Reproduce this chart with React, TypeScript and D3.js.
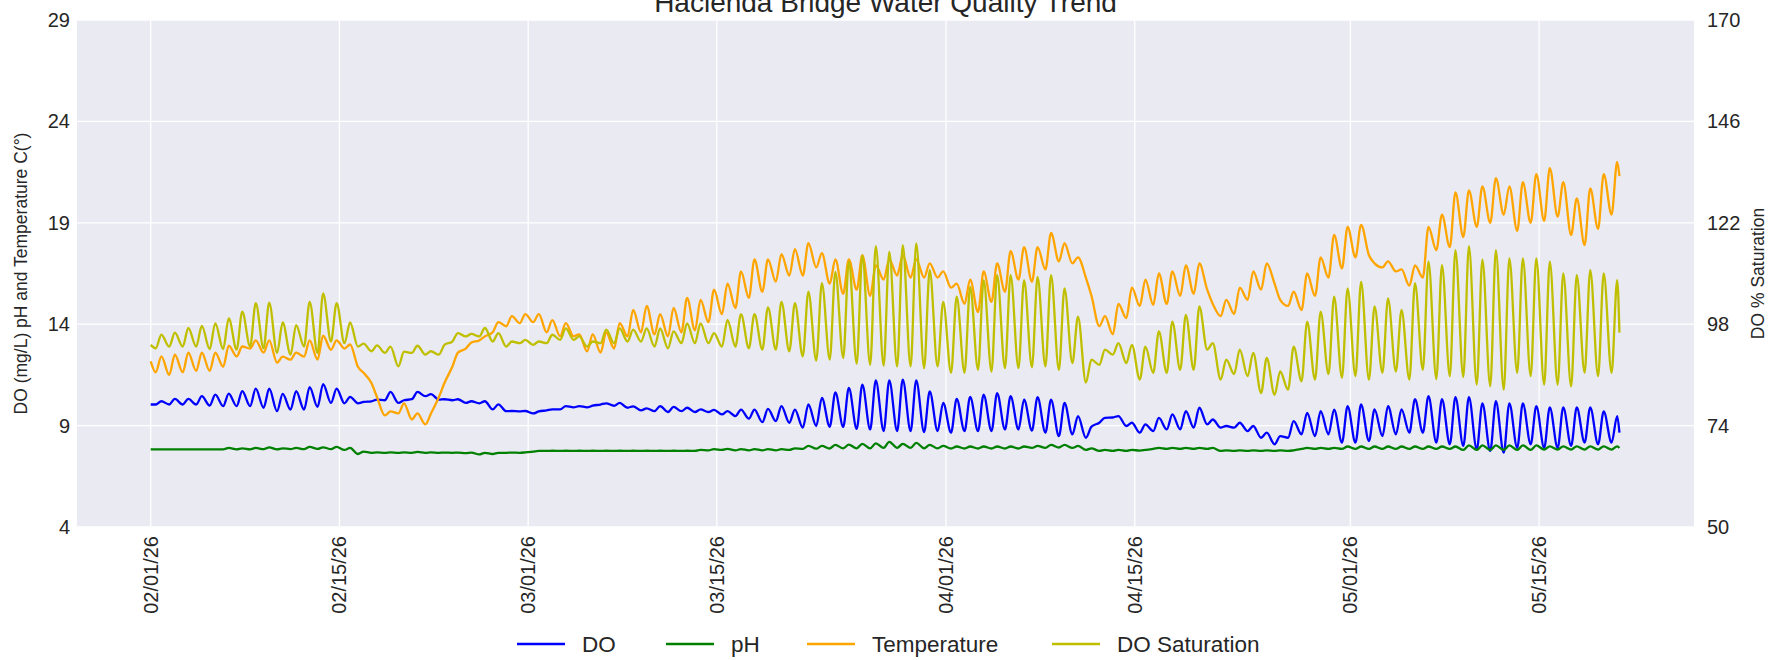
import React from "react";
import * as d3 from "d3";

// ---------------- DATA ----------------
// Daily readings: "Low" = morning trough reading, "High" = evening peak reading.
const doStart = 10.04;
const doEnd = 8.65;
const doLow = [
  10.04, 10.04, 10.04, 10.04, 9.99, 9.96, 9.96, 9.96, 9.88, 9.71, 9.79, 9.79, 9.92, 10.12, 10.1,
  10.1, 10.2, 10.25, 10.12, 10.3, 10.45,
  10.28, 10.25, 10.12, 10.1, 9.8, 9.71, 9.7, 9.6, 9.75, 9.8, 9.9, 9.9, 10.04, 9.98, 9.88, 9.75, 9.71, 9.67, 9.71, 9.67, 9.67, 9.55,
  9.47, 9.34, 9.17, 9.22, 9.14, 8.9, 8.98, 8.94, 8.94, 8.84, 8.81, 8.73, 8.73, 8.73, 8.68, 8.73, 8.65, 8.73, 8.73, 8.73, 8.81, 8.81, 8.75,
  8.65, 8.48, 8.57, 8.4, 9.14, 9.4, 8.98, 8.65, 8.73, 8.81, 8.81, 8.9, 9.06, 8.9, 8.9, 8.73, 8.4, 8.08, 8.4, 8.57, 8.48, 8.57,
  8.16, 8.16, 8.24, 8.48, 8.57, 8.65, 8.65, 8.16, 8.08, 8.0, 7.83, 7.75, 7.67, 7.9, 8.08, 7.9, 7.9, 8.0, 8.16, 8.08, 8.16,
];
const doHigh = [
  10.2, 10.32, 10.32, 10.45, 10.53, 10.58, 10.7, 10.82, 10.82, 10.56, 10.7, 10.9, 11.05, 10.82, 10.42,
  10.17, 10.28, 10.66, 10.25, 10.66, 10.55,
  10.3, 10.3, 10.2, 10.2, 10.05, 9.72, 9.72, 9.7, 9.8, 9.96, 9.96, 9.98, 10.1, 10.12, 9.95, 9.85, 9.96, 9.92, 9.88, 9.8, 9.78, 9.71,
  9.79, 9.79, 9.82, 9.96, 9.79, 10.04, 10.37, 10.64, 10.86, 11.02, 11.23, 11.23, 11.27, 11.23, 10.69, 10.12, 10.32, 10.42, 10.53, 10.6, 10.45, 10.28, 10.4,
  10.28, 10.12, 9.47, 8.95, 9.38, 9.47, 9.14, 9.06, 9.38, 9.55, 9.71, 9.88, 9.3, 8.98, 9.14, 8.98, 8.65, 8.48, 9.22, 9.63, 9.71, 9.79,
  9.96, 10.04, 9.8, 9.96, 9.8, 10.3, 10.45, 10.3, 10.4, 10.4, 10.1, 10.2, 10.1, 10.1, 9.96, 9.9, 9.9, 9.9, 9.9, 9.7, 9.47,
];

const phStart = 7.83;
const phEnd = 7.9;
const phLow = [
  7.83, 7.83, 7.83, 7.83, 7.83, 7.83, 7.83, 7.83, 7.84, 7.83, 7.84, 7.84, 7.85, 7.84, 7.8,
  7.6, 7.66, 7.66, 7.66, 7.66, 7.66,
  7.66, 7.66, 7.64, 7.58, 7.6, 7.66, 7.66, 7.72, 7.75, 7.75, 7.75, 7.75, 7.75, 7.75, 7.75, 7.75, 7.75, 7.75, 7.75, 7.75, 7.78, 7.8,
  7.78, 7.78, 7.78, 7.78, 7.8, 7.85, 7.86, 7.87, 7.88, 7.88, 7.88, 7.9, 7.9, 7.9, 7.88, 7.88, 7.87, 7.87, 7.87, 7.87, 7.87, 7.87, 7.9,
  7.9, 7.92, 7.9, 7.8, 7.75, 7.75, 7.75, 7.77, 7.85, 7.85, 7.85, 7.85, 7.85, 7.75, 7.75, 7.75, 7.75, 7.75, 7.75, 7.85, 7.85, 7.85,
  7.85, 7.85, 7.85, 7.85, 7.85, 7.85, 7.85, 7.85, 7.85, 7.8, 7.8, 7.8, 7.8, 7.8, 7.8, 7.82, 7.82, 7.82, 7.82, 7.82, 7.82,
];
const phHigh = [
  7.83, 7.83, 7.83, 7.83, 7.83, 7.9, 7.88, 7.9, 7.93, 7.88, 7.9, 7.95, 7.93, 7.95, 7.9,
  7.72, 7.68, 7.68, 7.68, 7.7, 7.68,
  7.67, 7.67, 7.67, 7.66, 7.66, 7.67, 7.68, 7.75, 7.76, 7.76, 7.76, 7.76, 7.76, 7.76, 7.76, 7.76, 7.76, 7.76, 7.76, 7.8, 7.84, 7.85,
  7.84, 7.84, 7.84, 7.84, 7.88, 8.0, 8.0, 8.05, 8.06, 8.1, 8.12, 8.2, 8.1, 8.15, 8.05, 8.0, 7.97, 7.97, 7.97, 7.97, 7.97, 7.97, 8.0,
  8.05, 8.05, 8.0, 7.88, 7.8, 7.8, 7.8, 7.8, 7.9, 7.9, 7.9, 7.9, 7.9, 7.78, 7.78, 7.78, 7.78, 7.78, 7.78, 7.9, 7.9, 7.9,
  7.97, 7.97, 7.97, 7.97, 7.97, 7.97, 7.97, 7.97, 7.97, 8.02, 8.02, 8.02, 8.02, 8.02, 8.02, 7.98, 7.98, 7.98, 7.98, 7.98, 7.98,
];

const tempStart = 12.17;
const tempEnd = 21.3;
const tempLow = [
  11.63, 11.5, 11.63, 11.7, 11.7, 11.9, 12.41, 12.8, 12.6, 12.1, 12.25, 12.4, 12.25, 12.74, 12.8,
  11.9, 11.1, 9.5, 9.6, 9.3, 9.06,
  10.4, 11.9, 12.8, 13.2, 13.6, 13.9, 14.05, 14.1, 13.6, 13.4, 13.4, 12.66, 12.6, 12.8, 13.4, 13.6, 13.5, 13.4, 13.6, 13.7, 14.1, 14.5,
  14.8, 15.3, 15.6, 16.1, 16.4, 16.4, 16.8, 16.0, 15.5, 15.7, 15.4, 16.2, 16.4, 16.3, 16.3, 16.3, 15.8, 15.0, 14.6, 15.1, 15.6, 16.2, 16.1,
  16.7, 17.1, 17.0, 16.3, 13.9, 13.5, 14.3, 14.9, 14.95, 15.0, 15.4, 15.5, 15.7, 14.4, 14.5, 15.2, 15.7, 16.0, 14.9, 14.7, 15.4, 16.3,
  16.75, 17.3, 17.4, 16.8, 16.6, 15.9, 16.3, 17.65, 17.8, 18.3, 18.8, 19.0, 19.4, 18.6, 19.0, 19.1, 19.3, 18.4, 17.9, 18.7, 19.4,
];
const tempHigh = [
  12.41, 12.5, 12.6, 12.6, 12.6, 12.94, 12.9, 13.2, 13.2, 12.4, 12.6, 13.2, 13.43, 13.2, 13.0,
  11.6, 10.4, 9.7, 10.1, 9.6, 9.6,
  11.1, 12.6, 13.1, 13.4, 14.1, 14.4, 14.5, 14.5, 14.2, 14.05, 13.5, 13.5, 13.6, 14.05, 14.7, 14.9, 14.5, 14.8, 15.3, 15.2, 15.7, 16.0,
  16.6, 17.2, 17.2, 17.45, 17.7, 18.0, 17.5, 17.2, 17.2, 17.4, 16.9, 17.2, 17.4, 17.2, 17.0, 16.6, 16.0, 16.2, 16.6, 17.0, 17.6, 17.8, 17.8,
  18.5, 18.0, 17.3, 15.4, 14.4, 15.0, 15.8, 16.2, 16.5, 16.6, 16.9, 17.0, 15.0, 15.2, 15.8, 16.6, 17.0, 15.2, 15.6, 16.5, 17.3, 18.4,
  18.8, 18.9, 17.0, 17.1, 16.7, 16.9, 18.8, 19.4, 20.5, 20.6, 20.8, 21.2, 20.8, 21.0, 21.4, 21.7, 21.0, 20.2, 20.7, 21.4, 22.0,
];

const satStart = 93.1;
const satEnd = 96.0;
const satLow = [
  92.3, 92.7, 92.7, 92.7, 92.1, 92.1, 92.0, 92.7, 92.3, 91.2, 90.8, 92.7, 91.2, 93.9, 93.5,
  92.7, 91.6, 91.2, 88.0, 91.2, 90.8,
  90.8, 93.9, 95.1, 95.1, 93.9, 92.7, 93.5, 93.1, 93.5, 94.3, 94.3, 92.7, 93.5, 93.5, 93.9, 93.9, 92.7, 92.3, 93.5, 93.5, 93.5, 92.7,
  92.7, 92.3, 92.0, 92.0, 91.6, 90.4, 89.4, 89.6, 90.0, 88.7, 88.4, 88.2, 88.0, 88.0, 87.6, 88.0, 86.5, 86.5, 87.2, 86.8, 87.6, 87.6, 87.8,
  88.0, 87.2, 88.8, 84.2, 88.4, 90.8, 88.8, 84.9, 86.5, 86.5, 87.2, 87.2, 92.0, 84.9, 86.2, 85.7, 81.7, 81.3, 82.5, 84.5, 84.9, 86.2,
  85.3, 85.7, 84.9, 86.5, 86.8, 84.9, 87.2, 85.0, 85.7, 85.5, 83.7, 83.3, 82.5, 86.5, 85.7, 83.7, 83.7, 83.3, 86.5, 85.7, 86.5,
];
const satHigh = [
  95.5, 96.0, 97.1, 97.6, 98.2, 99.4, 101.0, 103.0, 103.1, 98.4, 97.8, 103.3, 105.3, 103.0, 98.4,
  93.4, 93.0, 92.7, 91.5, 92.9, 91.6,
  93.1, 95.9, 95.7, 97.1, 95.9, 93.9, 94.3, 93.9, 95.5, 97.0, 95.1, 93.9, 96.7, 97.0, 96.7, 97.0, 97.0, 96.3, 98.2, 98.2, 95.9, 99.0,
  100.4, 100.4, 102.0, 103.3, 103.0, 105.7, 107.7, 110.4, 112.8, 114.3, 116.5, 115.1, 116.7, 117.1, 110.8, 103.3, 104.5, 106.8, 108.4, 109.6, 109.6, 108.4, 109.2,
  109.6, 106.5, 99.8, 89.6, 92.0, 93.5, 93.1, 92.7, 96.3, 98.6, 100.2, 102.2, 93.5, 89.6, 92.0, 91.2, 90.0, 86.8, 92.7, 98.6, 101.0, 104.5,
  106.5, 108.0, 102.2, 104.1, 101.4, 107.7, 112.8, 112.0, 115.5, 116.5, 113.3, 115.5, 113.6, 113.6, 113.6, 112.8, 110.0, 109.6, 110.8, 110.0, 108.4,
];

const xTickDates = ["2026-02-01", "2026-02-15", "2026-03-01", "2026-03-15", "2026-04-01", "2026-04-15", "2026-05-01", "2026-05-15"];
const leftTicks = [4, 9, 14, 19, 24, 29];
const rightTicks = [50, 74, 98, 122, 146, 170];
const seriesNames = ["DO", "pH", "Temperature", "DO Saturation"];
const seriesColors = ["#0000ff", "#008000", "#ffa500", "#bfbf00"];

// ---------------- LAYOUT ----------------
const W = 1789;
const H = 660;
const plot = { left: 77, right: 1694, top: 20, bottom: 527 };
const DAY = 86400000;
const T0 = Date.UTC(2026, 1, 1);
const LOW_HOUR = 9;
const HIGH_HOUR = 19;
const LAST_HOUR = 108 * 24 + 23;
const FONT = "'Liberation Sans', Arial, Helvetica, sans-serif";
const TEXT = "#262626";
const TICK_FS = 20;
const LABEL_FS = 17.5;
const LEGEND_FS = 22.5;

type Pt = { t: Date; v: number };

function buildSeries(start: number, low: number[], high: number[], end: number): Pt[] {
  const pts: Pt[] = [{ t: new Date(T0), v: start }];
  low.forEach((lo, d) => {
    pts.push({ t: new Date(T0 + d * DAY + LOW_HOUR * 3600000), v: lo });
    pts.push({ t: new Date(T0 + d * DAY + HIGH_HOUR * 3600000), v: high[d] });
  });
  pts.push({ t: new Date(T0 + LAST_HOUR * 3600000), v: end });
  return pts;
}

export default function App() {
  const x = d3
    .scaleUtc()
    .domain([new Date(T0 - 5.467 * DAY), new Date(T0 + 114.49 * DAY)])
    .range([plot.left, plot.right]);
  const yL = d3.scaleLinear().domain([4, 29]).range([plot.bottom, plot.top]);
  const yR = d3.scaleLinear().domain([50, 170]).range([plot.bottom, plot.top]);
  const fmt = d3.utcFormat("%m/%d/%y");
  const tickDates = xTickDates.map((s) => new Date(s + "T00:00:00Z"));

  const lineL = d3
    .line<Pt>()
    .x((p) => x(p.t))
    .y((p) => yL(p.v))
    .curve(d3.curveMonotoneX);
  const lineR = d3
    .line<Pt>()
    .x((p) => x(p.t))
    .y((p) => yR(p.v))
    .curve(d3.curveMonotoneX);

  const series = [
    { d: lineL(buildSeries(doStart, doLow, doHigh, doEnd)) },
    { d: lineL(buildSeries(phStart, phLow, phHigh, phEnd)) },
    { d: lineL(buildSeries(tempStart, tempLow, tempHigh, tempEnd)) },
    { d: lineR(buildSeries(satStart, satLow, satHigh, satEnd)) },
  ];

  const legendX = [517, 666, 807, 1052];
  const legendY = 644;
  const plotMidY = (plot.top + plot.bottom) / 2;

  return (
    <>
      <style>{`body{margin:0}`}</style>
      <svg width={W} height={H} style={{ display: "block", background: "#fff" }} fontFamily={FONT}>
        <defs>
          <clipPath id="plotclip">
            <rect x={plot.left} y={plot.top} width={plot.right - plot.left} height={plot.bottom - plot.top} />
          </clipPath>
        </defs>
        <rect x={plot.left} y={plot.top} width={plot.right - plot.left} height={plot.bottom - plot.top} fill="#eaeaf2" />
        {leftTicks.map((t) => (
          <line key={"gy" + t} x1={plot.left} x2={plot.right} y1={yL(t)} y2={yL(t)} stroke="#fff" strokeWidth={1.3} />
        ))}
        {tickDates.map((t, i) => (
          <line key={"gx" + i} x1={x(t)} x2={x(t)} y1={plot.top} y2={plot.bottom} stroke="#fff" strokeWidth={1.3} />
        ))}
        <g clipPath="url(#plotclip)">
          {series.map((s, i) => (
            <path key={i} d={s.d || ""} fill="none" stroke={seriesColors[i]} strokeWidth={2.3} strokeLinejoin="round" />
          ))}
        </g>
        {/* left ticks */}
        {leftTicks.map((t) => (
          <text key={"lt" + t} x={plot.left - 7} y={yL(t)} dy="0.35em" textAnchor="end" fontSize={TICK_FS} fill={TEXT}>
            {t}
          </text>
        ))}
        {/* right ticks */}
        {rightTicks.map((t) => (
          <text key={"rt" + t} x={plot.right + 13} y={yR(t)} dy="0.35em" textAnchor="start" fontSize={TICK_FS} fill={TEXT}>
            {t}
          </text>
        ))}
        {/* x ticks */}
        {tickDates.map((t, i) => (
          <text
            key={"xt" + i}
            transform={`translate(${x(t)},${plot.bottom + 9}) rotate(-90)`}
            dy="0.35em"
            textAnchor="end"
            fontSize={TICK_FS}
            fill={TEXT}
          >
            {fmt(t)}
          </text>
        ))}
        {/* axis labels */}
        <text transform={`translate(21,${plotMidY}) rotate(-90)`} textAnchor="middle" dy="0.35em" fontSize={LABEL_FS} fill={TEXT}>
          DO (mg/L) pH and Temperature C(°)
        </text>
        <text transform={`translate(1758,${plotMidY}) rotate(-90)`} textAnchor="middle" dy="0.35em" fontSize={LABEL_FS} fill={TEXT}>
          DO % Saturation
        </text>
        {/* title */}
        <text x={(plot.left + plot.right) / 2} y={12} textAnchor="middle" fontSize={28} fill={TEXT}>
          Hacienda Bridge Water Quality Trend
        </text>
        {/* legend */}
        {seriesNames.map((n, i) => (
          <g key={n}>
            <line x1={legendX[i]} x2={legendX[i] + 48} y1={legendY} y2={legendY} stroke={seriesColors[i]} strokeWidth={2.3} />
            <text x={legendX[i] + 65} y={legendY} dy="0.35em" fontSize={LEGEND_FS} fill={TEXT}>
              {n}
            </text>
          </g>
        ))}
      </svg>
    </>
  );
}
